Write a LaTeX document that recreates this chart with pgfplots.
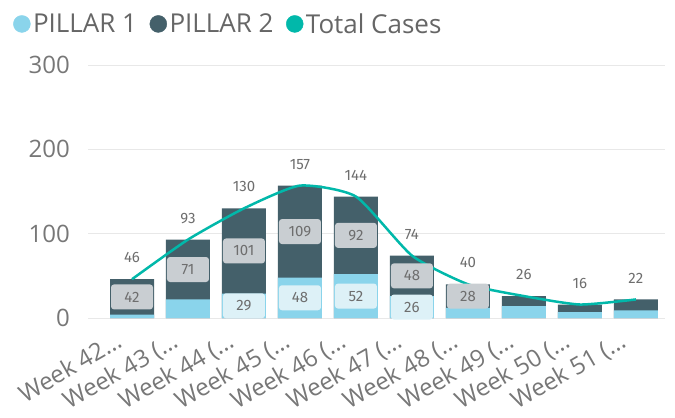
\documentclass[border=0pt]{standalone}
\usepackage{fontspec}
\setmainfont{Open Sans}
\newfontfamily\lblfont{Fira Sans}
\usepackage{pgfplots}
\usepackage{pgfplotstable}
\pgfplotsset{compat=1.18}

\definecolor{pone}{HTML}{8AD4EB}
\definecolor{ptwo}{HTML}{44606A}
\definecolor{tot}{HTML}{01B8AA}
\definecolor{tickgray}{HTML}{777777}
\definecolor{leggray}{HTML}{666666}
\definecolor{lblgray}{HTML}{6E6E6E}
\definecolor{boxgray}{HTML}{C9CED2}
\definecolor{boxpale}{HTML}{DDF1F7}
\definecolor{gridc}{HTML}{E8E8E8}

% week, pillar 1, pillar 2, total cases
\pgfplotstableread{
x p1 p2 tot
0 4 42 46
1 22 71 93
2 29 101 130
3 48 109 157
4 52 92 144
5 26 48 74
6 12 28 40
7 14 12 26
8 7 9 16
9 9 13 22
}\weeks

\begin{document}
\begin{tikzpicture}
\path[use as bounding box] (-88bp,-100bp) rectangle (587bp,318bp);
\begin{axis}[
 scale only axis,width=577bp,height=253bp,
 ymin=0,ymax=300,xmin=-0.786,xmax=9.52,
 clip=false,
 axis line style={draw=none},major tick length=0pt,
 ymajorgrids,grid style={gridc,line width=1bp},
 ytick={0,100,200,300},
 /pgf/number format/assume math mode=true,
 yticklabel style={font=\fontsize{24bp}{28bp}\selectfont,text=tickgray,inner sep=0pt,anchor=east,xshift=-18bp},
 xtick={0,...,9},
 xticklabels={Week 42…,Week 43 (…,Week 44 (…,Week 45 (…,Week 46 (…,Week 47 (…,Week 48 (…,Week 49 (…,Week 50 (…,Week 51 (…},
 xticklabel style={font=\fontsize{24bp}{28bp}\selectfont,text=tickgray,inner sep=0pt,rotate=30,anchor=north east,xshift=-21bp,yshift=-2bp},
 legend columns=3,
 legend style={at={(-0.13,1.215)},anchor=north west,draw=none,fill=none,inner sep=0pt,
   font=\fontsize{26bp}{30bp}\selectfont,text=leggray,
   nodes={inner sep=2.5bp},
   /tikz/every even column/.append style={column sep=10bp}},
 legend image code/.code={\fill[#1] (0bp,0) circle (8.5bp);},
]
% bars: full total in dark, pillar 1 laid over it from the bottom
\addplot[ybar,bar width=44bp,bar shift=0pt,fill=ptwo,draw=none,forget plot]
 table[x=x,y=tot] {\weeks};
\addplot[ybar,bar width=44bp,bar shift=0pt,fill=pone,draw=none,forget plot]
 table[x=x,y=p1] {\weeks};
% total cases line
\addplot[smooth,tension=0.35,tot,line width=2.5bp,forget plot] table[x=x,y=tot] {\weeks};

% data labels
\addplot[only marks,mark=none,forget plot,restrict x to domain=0:6,
 point meta=explicit symbolic,nodes near coords,
 every node near coord/.style={anchor=center,fill=boxgray,rounded corners=3bp,
   minimum width=42bp,minimum height=25bp,inner sep=0pt,
   font=\lblfont\fontsize{15bp}{18bp}\selectfont,text=lblgray}]
 table[x=x,y expr=\thisrow{p1}+0.5*\thisrow{p2},meta=p2] {\weeks};
\addplot[only marks,mark=none,forget plot,restrict x to domain=2:5,
 point meta=explicit symbolic,nodes near coords,
 every node near coord/.style={anchor=center,fill=boxpale,rounded corners=3bp,
   minimum width=42bp,minimum height=25bp,inner sep=0pt,
   font=\lblfont\fontsize{15bp}{18bp}\selectfont,text=lblgray}]
 table[x=x,y expr=0.5*\thisrow{p1},meta=p1] {\weeks};
\addplot[only marks,mark=none,forget plot,
 point meta=explicit symbolic,nodes near coords,
 every node near coord/.style={anchor=south,inner sep=0pt,yshift=16bp,
   font=\lblfont\fontsize{15bp}{18bp}\selectfont,text=lblgray}]
 table[x=x,y=tot,meta=tot] {\weeks};

\addlegendimage{pone}
\addlegendentry{PILLAR 1}
\addlegendimage{ptwo}
\addlegendentry{PILLAR 2}
\addlegendimage{tot}
\addlegendentry{Total Cases}
\end{axis}
\end{tikzpicture}
\end{document}
